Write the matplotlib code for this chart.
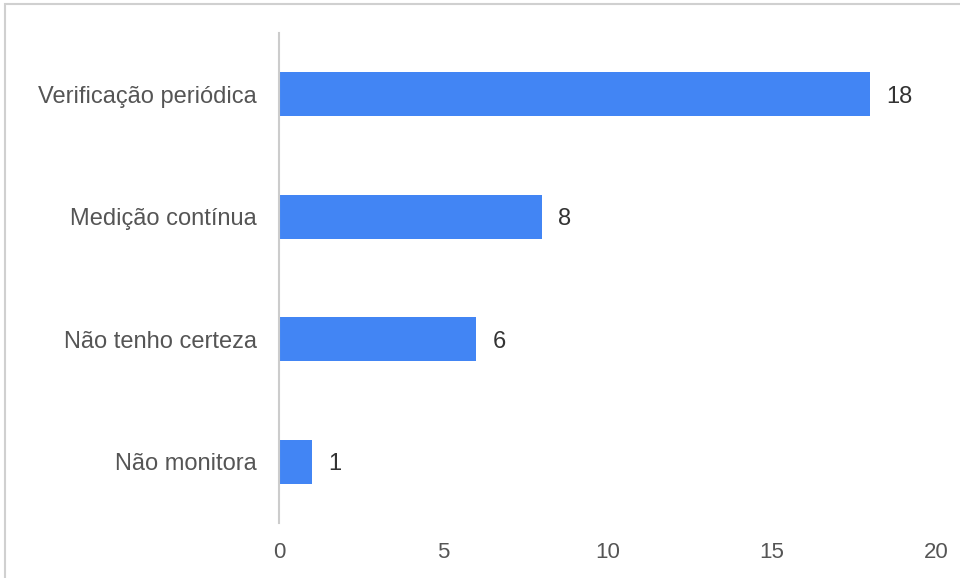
import matplotlib.pyplot as plt
from matplotlib.patches import Rectangle

plt.rcParams['font.family'] = ['Liberation Sans', 'DejaVu Sans']

categorias = ['Verificação periódica', 'Medição contínua', 'Não tenho certeza', 'Não monitora']
valores = [18, 8, 6, 1]
ticks_x = [0, 5, 10, 15, 20]

fig = plt.figure(figsize=(9.6, 5.78), dpi=100)
fig.patches.append(Rectangle((5/960, -0.1), 1.1, 1 - 4/578 + 0.1, transform=fig.transFigure,
                             fill=False, edgecolor='#d0d0d0', linewidth=1.5))

ax = fig.add_axes([279/960, 1 - 523/578, 657/960, 490/578])
pos = list(range(len(categorias)))
ax.barh(pos, valores, height=0.36, color='#4285f4')
for p, v in zip(pos, valores):
    ax.text(v + 0.5, p + 0.02, str(v), va='center', ha='left', fontsize=17, color='#333333')

ax.set_xlim(0, 20)
ax.set_ylim(3.5, -0.5)
ax.set_yticks(pos)
ax.set_yticklabels(categorias, fontsize=17, color='#555555')
ax.set_xticks(ticks_x)
ax.set_xticklabels([str(t) for t in ticks_x], fontsize=16, color='#555555')
ax.tick_params(length=0)
ax.tick_params(axis='y', pad=16)
ax.tick_params(axis='x', pad=14)
for s in ['top', 'right', 'bottom']:
    ax.spines[s].set_visible(False)
ax.spines['left'].set_color('#cccccc')
ax.spines['left'].set_linewidth(1.5)

fig.savefig('out.png', dpi=100)
